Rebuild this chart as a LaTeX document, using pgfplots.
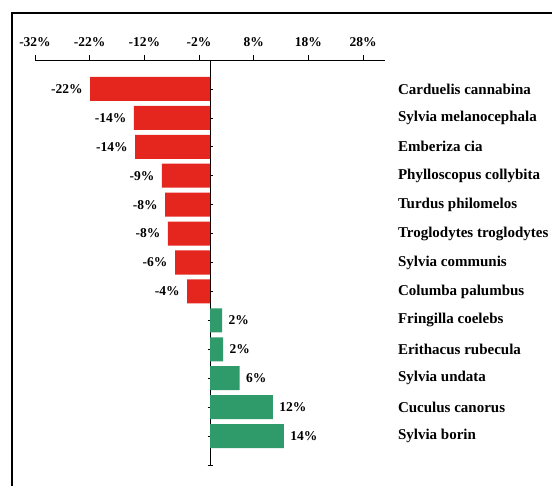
\documentclass[border=0pt]{standalone}
\usepackage{fontspec}
\setmainfont{Liberation Serif}
\usepackage{pgfplots}
\pgfplotsset{compat=1.18}
\definecolor{barred}{HTML}{E4261F}
\definecolor{bargreen}{HTML}{2F9A6A}
\newcommand{\lbl}{\bfseries\fontsize{13.5bp}{16bp}\selectfont}
\newcommand{\names}{\bfseries\fontsize{15bp}{17bp}\selectfont}
\begin{document}
\begin{tikzpicture}
\useasboundingbox (0,0) rectangle (552bp,486bp);
\begin{axis}[
  at={(35bp,21bp)}, anchor=south west,
  width=350bp, height=405bp, scale only axis,
  xmin=-32, xmax=32, ymin=0, ymax=14,
  axis x line=top, axis y line=middle,
  axis line style={-, black, line width=0.8bp},
  xtick={-32,-22,...,28},
  xticklabels={-32\%,-22\%,-12\%,-2\%,8\%,18\%,28\%},
  ytick={0,...,13},
  yticklabels={,Sylvia borin,Cuculus canorus,Sylvia undata,Erithacus rubecula,Fringilla coelebs,Columba palumbus,Sylvia communis,Troglodytes troglodytes,Turdus philomelos,Phylloscopus collybita,Emberiza cia,Sylvia melanocephala,Carduelis cannabina},
  xtick align=outside, ytick align=center,
  major tick length=5bp,
  tick style={black, line width=0.6bp},
  xticklabel style={font=\lbl, yshift=5bp},
  yticklabel style={font=\names, anchor=west, xshift=187bp},
  nodes near coords style={font=\lbl},
  clip=false,
]
\addplot[xbar, bar width=0.83, bar shift=0pt, fill=barred, draw=none,
  nodes near coords, point meta=explicit symbolic,
  every node near coord/.append style={anchor=east, xshift=-4bp}]
  coordinates {
    (-21.9,13) [-22\%]
    (-13.9,12) [-14\%]
    (-13.7,11) [-14\%]
    (-8.8,10) [-9\%]
    (-8.2,9) [-8\%]
    (-7.7,8) [-8\%]
    (-6.4,7) [-6\%]
    (-4.2,6) [-4\%]
  };
\addplot[xbar, bar width=0.83, bar shift=0pt, fill=bargreen, draw=none,
  nodes near coords, point meta=explicit symbolic,
  every node near coord/.append style={anchor=west, xshift=3bp}]
  coordinates {
    (2.2,5) [2\%]
    (2.4,4) [2\%]
    (5.4,3) [6\%]
    (11.5,2) [12\%]
    (13.5,1) [14\%]
  };
\end{axis}
\draw[line width=1.2bp] (12bp,-20bp) -- (12bp,473bp) -- (600bp,473bp);
\end{tikzpicture}
\end{document}
